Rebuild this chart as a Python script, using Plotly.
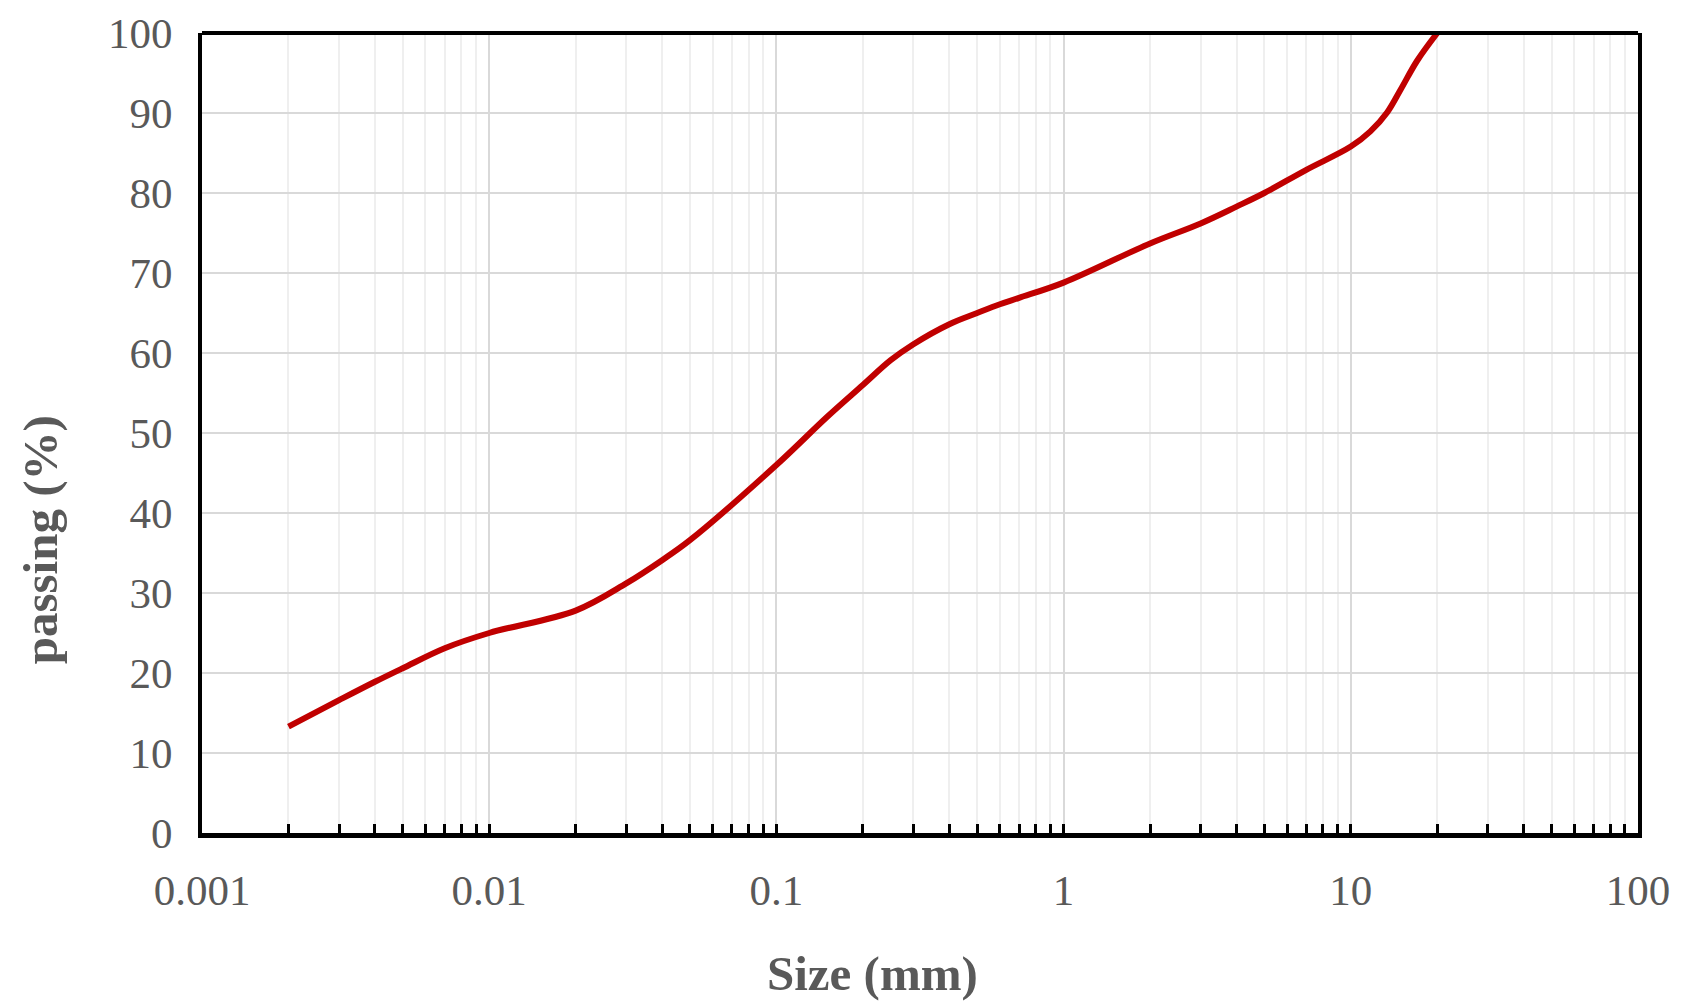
import plotly.graph_objects as go

# Grain-size distribution curve
size_mm = [0.002, 0.003, 0.004, 0.005, 0.007, 0.01, 0.02, 0.03, 0.04, 0.05,
           0.1, 0.15, 0.2, 0.25, 0.3, 0.4, 0.5, 0.6, 0.7, 1, 2, 3, 4, 5, 7,
           10, 11.7, 13.4, 14.9, 17, 20]
passing = [13.3, 16.6, 18.9, 20.6, 23.1, 25.0, 27.8, 31.2, 34.1, 36.6,
           46.0, 52.0, 56.0, 59.1, 61.1, 63.6, 65.0, 66.1, 66.9, 68.8, 73.7, 76.2, 78.3, 80.0, 82.9,
           85.8, 87.7, 90.1, 92.9, 96.5, 100]

x_tick_vals = [0.001, 0.01, 0.1, 1, 10, 100]
x_tick_text = ["0.001", "0.01", "0.1", "1", "10", "100"]
x_minor_vals = [m * d for d in [0.001, 0.01, 0.1, 1, 10] for m in range(2, 10)]
y_tick_vals = [0, 10, 20, 30, 40, 50, 60, 70, 80, 90, 100]

FONT = "Liberation Serif"
GRAY = "#595959"

fig = go.Figure()
fig.add_trace(go.Scatter(
    x=size_mm, y=passing, mode="lines",
    line=dict(color="#C00000", width=6, shape="spline", smoothing=1.0),
    showlegend=False,
))

fig.update_layout(
    width=1683, height=1007,
    margin=dict(l=194, r=53, t=25, b=182),
    paper_bgcolor="white", plot_bgcolor="white",
    font=dict(family=FONT, color=GRAY, size=43),
    xaxis=dict(
        type="log", range=[-3, 2], automargin=False,
        tickmode="array", tickvals=x_tick_vals, ticktext=x_tick_text,
        ticks="inside", ticklen=9, tickwidth=3, tickcolor="black",
        showgrid=True, gridcolor="#d9d9d9", gridwidth=2,
        minor=dict(tickmode="array", tickvals=x_minor_vals, ticks="inside",
                   ticklen=9, tickwidth=3, tickcolor="black",
                   showgrid=True, gridcolor="#efefef", gridwidth=2),
        showline=True, linecolor="black", linewidth=5,
        tickfont=dict(family=FONT, color=GRAY, size=43),
        ticklabelstandoff=15,
        zeroline=False,
    ),
    yaxis=dict(
        range=[0, 100], automargin=False,
        tickmode="array", tickvals=y_tick_vals,
        ticks="", showgrid=True, gridcolor="#d9d9d9", gridwidth=2,
        showline=True, linecolor="black", linewidth=4, mirror=True,
        tickfont=dict(family=FONT, color=GRAY, size=43),
        ticklabelstandoff=17,
        zeroline=False,
    ),
)

# top frame border
fig.add_shape(type="line", xref="paper", yref="paper", x0=0, x1=1, y0=1, y1=1,
              line=dict(color="black", width=4))

fig.add_annotation(text="<b>Size (mm)</b>", xref="paper", yref="paper",
                   x=0.4666, y=-0.175, xanchor="center", yanchor="middle",
                   showarrow=False, font=dict(family=FONT, color=GRAY, size=49))
fig.add_annotation(text="<b>passing (%)</b>", xref="paper", yref="paper",
                   x=-0.1127, y=0.366, xanchor="center", yanchor="middle",
                   textangle=-90,
                   showarrow=False, font=dict(family=FONT, color=GRAY, size=49))

fig.write_html("out.html")
